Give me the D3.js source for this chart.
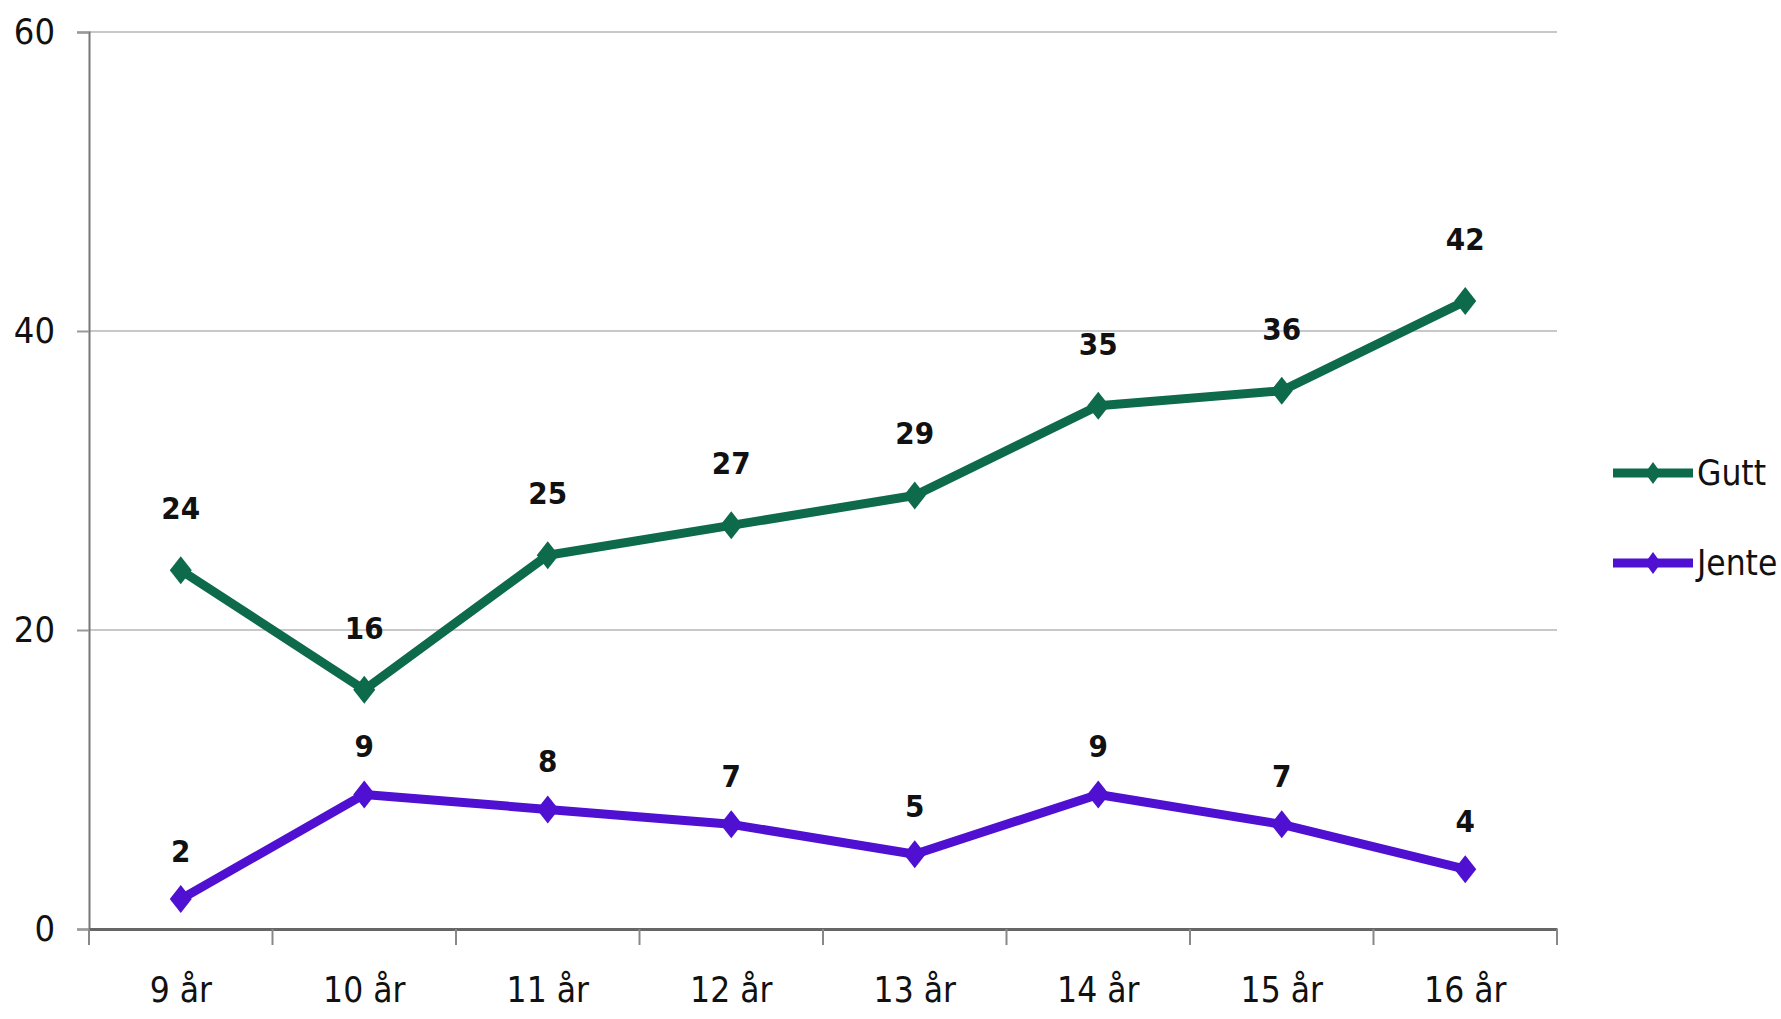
<!DOCTYPE html>
<html lang="no">
  <head>
    <meta charset="utf-8">
    <script src="https://d3js.org/d3.v7.min.js"></script>
    <style>
      body { margin: 0; background: #fff; }
      text { font-family: "Liberation Sans Narrow", "DejaVu Sans Condensed", "Liberation Sans", sans-serif; fill: #111; }
    </style>
  </head>
  <body>
    <script>

    // Data
    var categories = ["9 år", "10 år", "11 år", "12 år", "13 år", "14 år", "15 år", "16 år"];
    var gutt = [24, 16, 25, 27, 29, 35, 36, 42];
    var jente = [2, 9, 8, 7, 5, 9, 7, 4];
    var seriesNames = ["Gutt", "Jente"];
    var yTicks = [0, 20, 40, 60];

    var colors = ["#0d6b4b", "#4f10d2"];
    var labelOffset = [62, 48];

    var W = 1781, H = 1019;
    var plotLeft = 89, plotRight = 1557, plotTop = 32, plotBottom = 929;

    var svg = d3.select("body").append("svg")
                .attr("width", W)
                .attr("height", H);

    var x = d3.scaleBand()
              .domain(categories)
              .range([plotLeft, plotRight]);

    var y = d3.scaleLinear()
              .domain([0, 60])
              .range([plotBottom, plotTop]);

    // Horizontal gridlines
    svg.append("g")
        .selectAll("line")
        .data(yTicks.filter(function(d) { return d > 0; }))
        .enter().append("line")
          .attr("x1", plotLeft).attr("x2", plotRight)
          .attr("y1", function(d) { return y(d); })
          .attr("y2", function(d) { return y(d); })
          .attr("stroke", "#c8c8c8")
          .attr("stroke-width", 2);

    // Y axis
    var yAxis = svg.append("g")
        .attr("transform", "translate(" + plotLeft + ",0)")
        .call(d3.axisLeft(y).tickValues(yTicks).tickSize(12).tickPadding(22));
    yAxis.select(".domain").attr("stroke", "#777").attr("stroke-width", 2);
    yAxis.selectAll(".tick line").attr("stroke", "#999").attr("stroke-width", 2);
    yAxis.selectAll(".tick text").style("font-size", "36px").attr("fill", "#111");

    // X axis with ticks at the band edges
    var xAxis = svg.append("g")
        .attr("transform", "translate(0," + plotBottom + ")")
        .call(d3.axisBottom(x).tickSize(0).tickPadding(48));
    xAxis.select(".domain").attr("stroke", "#666").attr("stroke-width", 3);
    xAxis.selectAll(".tick text").style("font-size", "35px").attr("fill", "#111");
    xAxis.selectAll(".edge")
        .data(d3.range(categories.length + 1))
        .enter().append("line")
          .attr("class", "edge")
          .attr("x1", function(i) { return plotLeft + i * x.step(); })
          .attr("x2", function(i) { return plotLeft + i * x.step(); })
          .attr("y1", 0).attr("y2", 16)
          .attr("stroke", "#888")
          .attr("stroke-width", 2);

    // Lines, markers and data labels
    var diamond = function(w, h) {
      return "M0," + (-h/2) + "L" + (w/2) + ",0L0," + (h/2) + "L" + (-w/2) + ",0Z";
    };

    var line = d3.line()
                 .x(function(d, i) { return x(categories[i]) + x.bandwidth() / 2; })
                 .y(function(d) { return y(d); });

    [gutt, jente].forEach(function(values, s) {
      var g = svg.append("g");
      g.append("path")
        .datum(values)
        .attr("d", line)
        .attr("fill", "none")
        .attr("stroke", colors[s])
        .attr("stroke-width", 9)
        .attr("stroke-linejoin", "round");

      g.selectAll(".marker")
        .data(values)
        .enter().append("path")
          .attr("class", "marker")
          .attr("transform", function(d, i) {
            return "translate(" + (x(categories[i]) + x.bandwidth() / 2) + "," + y(d) + ")";
          })
          .attr("d", diamond(22, 28))
          .attr("fill", colors[s]);

      g.selectAll(".label")
        .data(values)
        .enter().append("text")
          .attr("class", "label")
          .attr("x", function(d, i) { return x(categories[i]) + x.bandwidth() / 2; })
          .attr("y", function(d) { return y(d) - labelOffset[s]; })
          .attr("dy", "0.35em")
          .attr("text-anchor", "middle")
          .style("font-size", "31px")
          .style("font-weight", "bold")
          .text(function(d) { return d; });
    });

    // Legend
    var legend = svg.append("g");
    var legendY = [473, 563];
    seriesNames.forEach(function(name, s) {
      var row = legend.append("g").attr("transform", "translate(1613," + legendY[s] + ")");
      row.append("line")
        .attr("x1", 0).attr("x2", 80)
        .attr("stroke", colors[s])
        .attr("stroke-width", 9);
      row.append("path")
        .attr("transform", "translate(40,0)")
        .attr("d", diamond(16, 22))
        .attr("fill", colors[s]);
      row.append("text")
        .attr("x", 84)
        .attr("dy", "0.35em")
        .style("font-size", "35px")
        .text(name);
    });
    </script>
  </body>
</html>
